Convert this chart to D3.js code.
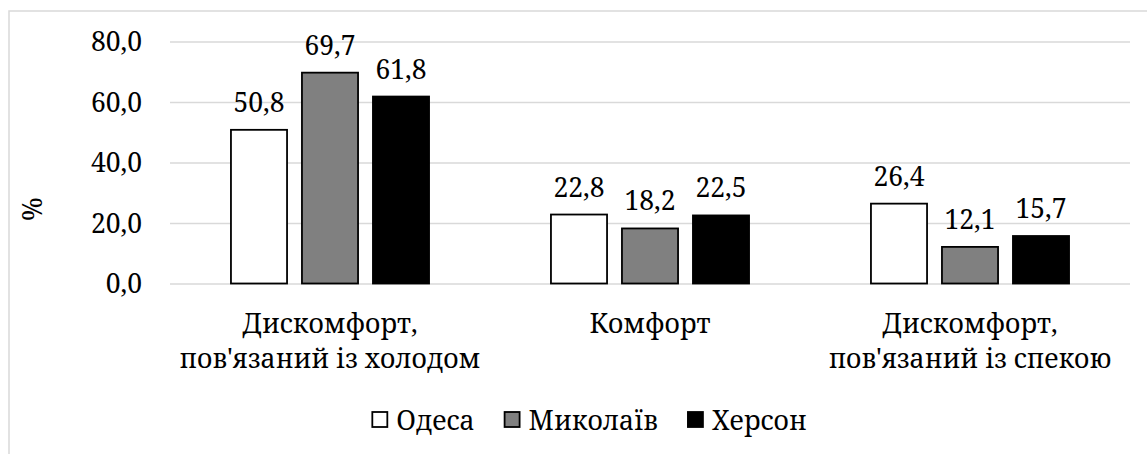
<!DOCTYPE html>
<html><head><meta charset="utf-8">
<script src="https://cdn.jsdelivr.net/npm/d3@7"></script>
<style>
html,body{margin:0;padding:0;background:#fff;}
svg{display:block;}
</style></head>
<body>
<svg id="c" width="1147" height="454"></svg>
<script>
const categories = [["Дискомфорт,", "пов'язаний із холодом"], ["Комфорт"], ["Дискомфорт,", "пов'язаний із спекою"]];
const series = ["Одеса", "Миколаїв", "Херсон"];
const odesa = [50.8, 22.8, 26.4];
const mykolaiv = [69.7, 18.2, 12.1];
const kherson = [61.8, 22.5, 15.7];
const yTicks = [0, 20, 40, 60, 80];
const colors = ["#ffffff", "#808080", "#000000"];
const values = [odesa, mykolaiv, kherson];

// pick a serif family that is really used
function tw(f, size) {
  const c = document.createElement("canvas").getContext("2d");
  c.font = `${size}px ${f}`;
  return c.measureText("Дискомфорт пов'язаний 80,0 Herson").width;
}
const sansW = ["'Liberation Sans'", "'DejaVu Sans'", "Arimo", "'Noto Sans'", "Roboto", "sans-serif"].map(f => tw(f, 31));
const bogusW = tw("'NoSuchFontXYZ123'", 31);
const cands = ["'Liberation Serif'", "'Times New Roman'", "Tinos", "'Noto Serif'", "'DejaVu Serif'", "'Noto Serif CJK SC'"];
let FONT = "'Liberation Serif'";
for (const f of cands) {
  const v = tw(f, 31);
  if (Math.abs(v - bogusW) > 0.5 && sansW.every(s => Math.abs(v - s) > 0.5)) { FONT = f; break; }
}

const svg = d3.select("#c");

// size the font so the longest category line is as wide as in the reference (~301px)
const probe = svg.append("text").attr("font-size", 100).style("font-family", FONT).text(categories[0][1]);
const pw = probe.node().getComputedTextLength();
probe.remove();
let FS = pw > 0 ? 100 * 301 / pw : 31;
FS = Math.max(22, Math.min(33, FS));

const fmt = v => v.toFixed(1).replace(".", ",");

// frame
svg.append("rect").attr("x", 9).attr("y", 11).attr("width", 1160).attr("height", 480)
  .attr("fill", "none").attr("stroke", "#d9d9d9").attr("stroke-width", 1.5);

const catIdx = categories.map((c, i) => i);
const x0 = d3.scaleBand().domain(catIdx).range([170, 1130]).padding(0);
const groupW = 213;
const x1 = d3.scaleBand().domain(series).range([0, groupW]).paddingInner(0.21).paddingOuter(0.105);
const y = d3.scaleLinear().domain([0, 80]).range([283.5, 41.5]);

// gridlines + ticks
const yAxis = d3.axisLeft(y).tickValues(yTicks).tickSize(-960).tickFormat(fmt).tickPadding(28);
const gA = svg.append("g").attr("transform", "translate(170,0)").call(yAxis);
gA.attr("font-family", null).attr("font-size", null);
gA.select(".domain").remove();
gA.selectAll(".tick line").attr("stroke", "#d9d9d9").attr("stroke-width", 1.5);
gA.selectAll(".tick text").style("font-family", FONT).attr("font-size", FS).attr("fill", "#000").attr("dy", "0.34em");

// bars
const gx = c => x0(c) + (x0.bandwidth() - groupW) / 2;
series.forEach((s, si) => {
  const g = svg.append("g");
  g.selectAll("rect").data(values[si]).join("rect")
    .attr("x", (d, i) => gx(i) + x1(s))
    .attr("y", d => y(d))
    .attr("width", x1.bandwidth())
    .attr("height", d => y(0) - y(d))
    .attr("fill", colors[si]).attr("stroke", "#000").attr("stroke-width", 1.8);
  g.selectAll("text").data(values[si]).join("text")
    .attr("x", (d, i) => gx(i) + x1(s) + x1.bandwidth() / 2)
    .attr("y", d => y(d) - 18)
    .attr("text-anchor", "middle").attr("font-size", FS).style("font-family", FONT)
    .text(fmt);
});

// category labels
categories.forEach((lines, i) => {
  const cx = x0(i) + x0.bandwidth() / 2;
  const t = svg.append("text").attr("text-anchor", "middle").attr("font-size", FS).style("font-family", FONT)
    .attr("x", cx).attr("y", 333);
  lines.forEach((l, li) => t.append("tspan").attr("x", cx).attr("y", 333 + li * 35).text(l));
});

// y label
svg.append("text").attr("transform", "translate(42,209) rotate(-90)").style("font-family", FONT)
  .attr("text-anchor", "middle").attr("font-size", FS).text("%");

// legend
const lg = svg.append("g");
let cx = 0;
series.forEach((s, si) => {
  const it = lg.append("g");
  it.append("rect").attr("x", cx + 1).attr("y", 412).attr("width", 15).attr("height", 15)
    .attr("fill", colors[si]).attr("stroke", "#000").attr("stroke-width", 1.8);
  const t = it.append("text").attr("x", cx + 25).attr("y", 430).attr("font-size", FS).style("font-family", FONT).text(s);
  const w = t.node().getComputedTextLength();
  cx += 25 + w + 29;
});
const total = cx - 29;
lg.attr("transform", `translate(${589 - total / 2},0)`);
</script>
</body></html>
